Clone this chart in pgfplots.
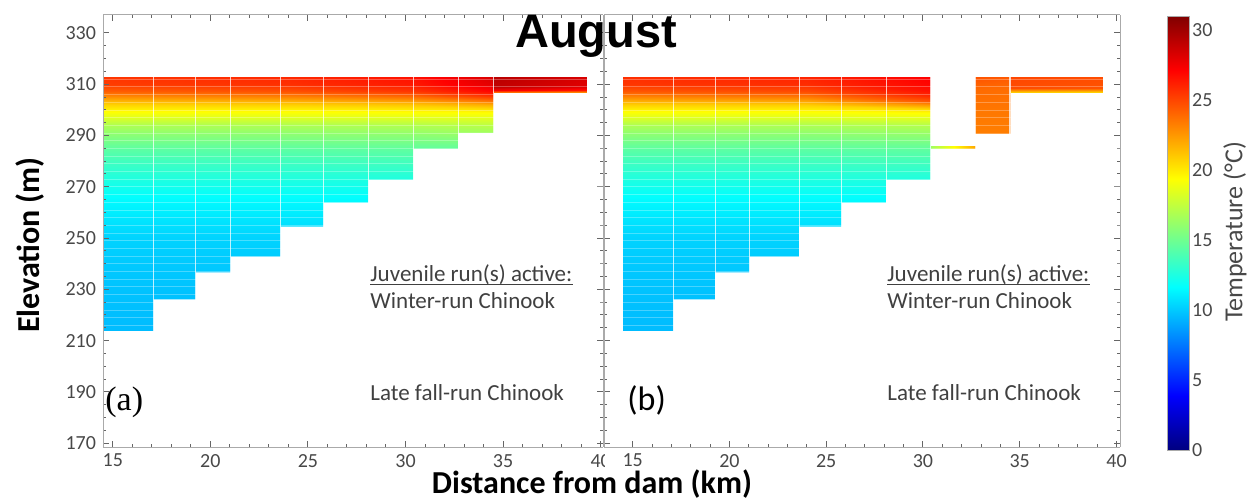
\documentclass[border=0pt]{standalone}
\usepackage{fontspec}
\setmainfont{Carlito}
\newfontfamily\arialfont{Liberation Sans}
\newfontfamily\timesfont{Liberation Serif}
\usepackage{pgfplots}
\usepackage{pgfplotstable}
\pgfplotsset{compat=1.18}

\definecolor{txtgray}{RGB}{64,64,64}
\definecolor{tickgray}{RGB}{72,72,72}
\definecolor{framegray}{RGB}{170,170,170}

% panel (a): columns 1-9, x nodes 14.5 24 30.4 34.5
\pgfplotstableread[row sep=\\]{
x y T\\
14.5 313 25.5\\ 24 313 25.9\\ 30.4 313 26.6\\ 34.5 313 28.3\\
14.5 310 25.3\\ 24 310 25.7\\ 30.4 310 26.4\\ 34.5 310 28.0\\
14.5 307.5 24.3\\ 24 307.5 24.7\\ 30.4 307.5 25.5\\ 34.5 307.5 27.0\\
14.5 305.5 23.0\\ 24 305.5 23.3\\ 30.4 305.5 24.0\\ 34.5 305.5 25.5\\
14.5 303.5 21.6\\ 24 303.5 21.8\\ 30.4 303.5 22.3\\ 34.5 303.5 23.5\\
14.5 302 20.6\\ 24 302 20.7\\ 30.4 302 21.0\\ 34.5 302 21.7\\
14.5 300.5 19.9\\ 24 300.5 19.9\\ 30.4 300.5 20.1\\ 34.5 300.5 20.4\\
14.5 299 19.3\\ 24 299 19.3\\ 30.4 299 19.4\\ 34.5 299 19.5\\
14.5 297 18.3\\ 24 297 18.3\\ 30.4 297 18.4\\ 34.5 297 18.5\\
14.5 294 16.9\\ 24 294 16.9\\ 30.4 294 17.0\\ 34.5 294 17.3\\
14.5 290 15.7\\ 24 290 15.7\\ 30.4 290 15.8\\ 34.5 290 16.1\\
14.5 285 14.5\\ 24 285 14.5\\ 30.4 285 14.6\\ 34.5 285 14.7\\
14.5 279 13.4\\ 24 279 13.4\\ 30.4 279 13.5\\ 34.5 279 13.5\\
14.5 272 12.4\\ 24 272 12.4\\ 30.4 272 12.4\\ 34.5 272 12.4\\
14.5 265 11.5\\ 24 265 11.5\\ 30.4 265 11.5\\ 34.5 265 11.5\\
14.5 258 10.9\\ 24 258 10.9\\ 30.4 258 10.9\\ 34.5 258 10.9\\
14.5 250 10.3\\ 24 250 10.3\\ 30.4 250 10.3\\ 34.5 250 10.3\\
14.5 240 10.0\\ 24 240 10.0\\ 30.4 240 10.0\\ 34.5 240 10.0\\
14.5 230 9.8\\ 24 230 9.8\\ 30.4 230 9.8\\ 34.5 230 9.8\\
14.5 214.1 9.6\\ 24 214.1 9.6\\ 30.4 214.1 9.6\\ 34.5 214.1 9.6\\
}\mainA

% panel (a): surface band of column 10
\pgfplotstableread[row sep=\\]{
x y T\\
34.5 313 29.3\\ 39.3 313 28.3\\
34.5 309 29.0\\ 39.3 309 28.0\\
34.5 307.8 27.5\\ 39.3 307.8 26.5\\
34.5 306.9 24.0\\ 39.3 306.9 23.0\\
}\bandA

% panel (b): columns 1-7, x nodes 14.5 24 30.4
\pgfplotstableread[row sep=\\]{
x y T\\
14.5 313 25.7\\ 24 313 26.0\\ 30.4 313 27.2\\
14.5 310 25.5\\ 24 310 25.8\\ 30.4 310 27.0\\
14.5 307.5 24.5\\ 24 307.5 24.9\\ 30.4 307.5 26.6\\
14.5 305.5 23.2\\ 24 305.5 23.6\\ 30.4 305.5 25.8\\
14.5 303.5 21.8\\ 24 303.5 22.1\\ 30.4 303.5 24.5\\
14.5 302 20.7\\ 24 302 20.8\\ 30.4 302 22.4\\
14.5 300.5 19.9\\ 24 300.5 20.0\\ 30.4 300.5 20.6\\
14.5 299 19.3\\ 24 299 19.3\\ 30.4 299 19.6\\
14.5 297 18.3\\ 24 297 18.3\\ 30.4 297 18.5\\
14.5 294 16.9\\ 24 294 16.9\\ 30.4 294 17.1\\
14.5 290 15.7\\ 24 290 15.7\\ 30.4 290 15.9\\
14.5 285 14.5\\ 24 285 14.5\\ 30.4 285 14.6\\
14.5 279 13.4\\ 24 279 13.4\\ 30.4 279 13.5\\
14.5 272 12.4\\ 24 272 12.4\\ 30.4 272 12.4\\
14.5 265 11.5\\ 24 265 11.5\\ 30.4 265 11.5\\
14.5 258 10.9\\ 24 258 10.9\\ 30.4 258 10.9\\
14.5 250 10.3\\ 24 250 10.3\\ 30.4 250 10.3\\
14.5 240 10.0\\ 24 240 10.0\\ 30.4 240 10.0\\
14.5 230 9.8\\ 24 230 9.8\\ 30.4 230 9.8\\
14.5 214.1 9.6\\ 24 214.1 9.6\\ 30.4 214.1 9.6\\
}\mainB

\pgfplotstableread[row sep=\\]{
x y T\\
30.4 286.0 16.5\\ 32.7 286.0 22.0\\
30.4 285.0 16.5\\ 32.7 285.0 22.0\\
}\sliverB

\pgfplotstableread[row sep=\\]{
x y T\\
32.7 313 24.6\\ 34.5 313 24.4\\
32.7 308 23.9\\ 34.5 308 23.8\\
32.7 300 23.5\\ 34.5 300 23.5\\
32.7 290.6 23.3\\ 34.5 290.6 23.3\\
}\blockB

\pgfplotstableread[row sep=\\]{
x y T\\
34.5 313 25.0\\ 39.3 313 24.8\\
34.5 308.5 24.8\\ 39.3 308.5 24.6\\
34.5 307.6 23.0\\ 39.3 307.6 22.8\\
34.5 306.9 21.0\\ 39.3 306.9 20.8\\
}\bandB

\pgfplotsset{
  panel/.style={
    scale only axis, height=216pt, view={0}{90},
    ymin=168.5, ymax=337, zmin=-1, zmax=1,
    xtick={15,20,...,40}, ytick={170,190,...,330}, ztick=\empty,
    minor x tick num=4, minor y tick num=3,
    tick align=inside, major tick length=3pt, minor tick length=1.5pt,
    axis line style={framegray, line width=0.5pt},
    tick style={framegray!60!black, line width=0.5pt},
    tick label style={font=\fontsize{10}{12}\selectfont, text=tickgray},
    /pgf/number format/assume math mode=true,
    colormap/jet, point meta min=0, point meta max=31,
    axis on top,
    extra x ticks={17.1,19.26,21.05,23.6,25.8,28.1,30.4,32.7,34.5},
    extra x tick labels={},
    extra x tick style={grid=major, major tick length=0pt,
      major grid style={white, line width=0.6pt, opacity=0.75}},
    extra y ticks={216,219,...,311},
    extra y tick labels={},
    extra y tick style={grid=major, major tick length=0pt,
      major grid style={white, line width=0.3pt, opacity=0.28}},
  },
  heat/.style={surf, shader=interp, point meta=explicit},
}

\begin{document}
\begin{tikzpicture}
\useasboundingbox (0,0) rectangle (624pt,250pt);

\begin{axis}[panel, at={(51.5pt,26.5pt)}, anchor=south west,
  width=250pt, xmin=14.5, xmax=40.12]
\addplot3[heat, mesh/cols=4] table[x=x, y=y, z expr=0, meta=T] {\mainA};
\addplot3[heat, mesh/cols=2] table[x=x, y=y, z expr=0, meta=T] {\bandA};
\addplot3[fill=white, draw=none] coordinates {
  (17.1,212,0) (17.1,226.1,0) (19.26,226.1,0) (19.26,236.6,0)
  (21.05,236.6,0) (21.05,242.8,0) (23.6,242.8,0) (23.6,254.5,0)
  (25.8,254.5,0) (25.8,263.8,0) (28.1,263.8,0) (28.1,272.7,0)
  (30.4,272.7,0) (30.4,284.8,0) (32.7,284.8,0) (32.7,291.0,0)
  (34.6,291.0,0) (34.6,212,0)};
\end{axis}

\fill[white] (302.6pt,12pt) rectangle (312pt,24pt);

\begin{axis}[panel, at={(302pt,26.5pt)}, anchor=south west,
  width=258pt, xmin=13.52, xmax=40.18, yticklabels={},
  colorbar,
  colorbar style={
    at={(parent axis.north east)}, anchor=north west,
    xshift=15pt, yshift=-0.5pt,
    scale only axis, width=11pt, height=217pt,
    ytick={0,5,...,30}, yticklabel pos=right, major tick length=0pt,
    yticklabel style={font=\fontsize{10}{12}\selectfont, text=tickgray, xshift=-2pt},
    /pgf/number format/assume math mode=true,
    axis line style={framegray},
  }]
\addplot3[heat, mesh/cols=3] table[x=x, y=y, z expr=0, meta=T] {\mainB};
\addplot3[heat, mesh/cols=2] table[x=x, y=y, z expr=0, meta=T] {\sliverB};
\addplot3[heat, mesh/cols=2] table[x=x, y=y, z expr=0, meta=T] {\blockB};
\addplot3[heat, mesh/cols=2] table[x=x, y=y, z expr=0, meta=T] {\bandB};
\addplot3[fill=white, draw=none] coordinates {
  (17.1,212,0) (17.1,226.1,0) (19.26,226.1,0) (19.26,236.6,0)
  (21.05,236.6,0) (21.05,242.8,0) (23.6,242.8,0) (23.6,254.5,0)
  (25.8,254.5,0) (25.8,263.8,0) (28.1,263.8,0) (28.1,272.7,0)
  (30.5,272.7,0) (30.5,212,0)};
\end{axis}

\node[rotate=90, inner sep=0pt, text=tickgray, font=\fontsize{13}{15}\selectfont] at (617.5pt,134pt) {Temperature (°C)};

\node[anchor=base, font=\arialfont\bfseries\fontsize{23.5}{26}\selectfont] at (298pt,226.5pt) {August};

\node[rotate=90, font=\bfseries\fontsize{16}{19}\selectfont] at (15pt,127.5pt) {Elevation (m)};
\node[font=\bfseries\fontsize{16}{19}\selectfont] at (296pt,8pt) {Distance from dam (km)};

\begin{scope}[every node/.style={anchor=base west, inner sep=0pt, text=txtgray, font=\fontsize{11.5}{14}\selectfont}]
\node (ja) at (185pt,109.5pt) {Juvenile run(s) active:};
\node at (185pt,96pt) {Winter-run Chinook};
\node at (185pt,50pt) {Late fall-run Chinook};
\node (jb) at (443.5pt,109.5pt) {Juvenile run(s) active:};
\node at (443.5pt,96pt) {Winter-run Chinook};
\node at (443.5pt,50pt) {Late fall-run Chinook};
\end{scope}
\draw[txtgray, line width=0.6pt] ([yshift=-1.8pt]ja.base west) -- ([yshift=-1.8pt]ja.base east);
\draw[txtgray, line width=0.6pt] ([yshift=-1.8pt]jb.base west) -- ([yshift=-1.8pt]jb.base east);

\node[anchor=base west, inner sep=0pt, font=\timesfont\fontsize{17}{20}\selectfont] at (52.5pt,45pt) {(a)};
\node[anchor=base west, inner sep=0pt, font=\fontsize{17}{20}\selectfont] at (313.5pt,45pt) {(b)};
\end{tikzpicture}
\end{document}
